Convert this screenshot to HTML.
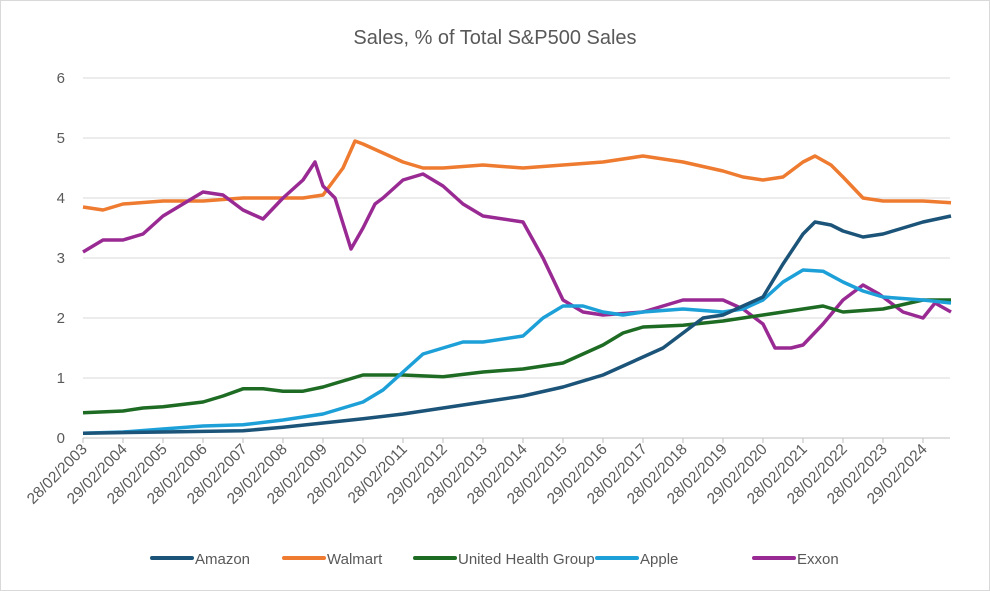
<!DOCTYPE html>
<html><head><meta charset="utf-8"><style>
body{margin:0;background:#fff;font-family:"Liberation Sans",sans-serif}
svg{display:block}
</style></head><body>
<svg id="chart" width="990" height="591" xmlns="http://www.w3.org/2000/svg">
<rect x="0.5" y="0.5" width="989" height="590" fill="#fff" stroke="#d9d9d9"/>
<text x="495" y="44" text-anchor="middle" font-size="20" fill="#595959">Sales, % of Total S&amp;P500 Sales</text>
<g id="grid"></g><g id="series"></g><g id="xlabels"></g><g id="legend"></g>
</svg>
<script>
const yTicks=[0,1,2,3,4,5,6];
const xLabels=["28/02/2003","29/02/2004","28/02/2005","28/02/2006","28/02/2007","29/02/2008","28/02/2009","28/02/2010","28/02/2011","29/02/2012","28/02/2013","28/02/2014","28/02/2015","29/02/2016","28/02/2017","28/02/2018","28/02/2019","29/02/2020","28/02/2021","28/02/2022","28/02/2023","29/02/2024"];
const seriesNames=["Amazon","Walmart","United Health Group","Apple","Exxon"];
const amazonT=[0,2,4,5,6,7,8,9,10,11,12,13,14,14.5,15,15.5,16,16.5,17,17.5,18,18.3,18.7,19,19.5,20,20.5,21,21.7];
const amazonV=[0.08,0.1,0.12,0.18,0.25,0.32,0.4,0.5,0.6,0.7,0.85,1.05,1.35,1.5,1.75,2.0,2.05,2.2,2.35,2.9,3.4,3.6,3.55,3.45,3.35,3.4,3.5,3.6,3.7];
const walmartT=[0,0.5,1,2,3,4,5,5.5,6,6.5,6.8,7,7.5,8,8.5,9,10,11,12,13,14,15,16,16.5,17,17.5,18,18.3,18.7,19,19.5,20,21,21.7];
const walmartV=[3.85,3.8,3.9,3.95,3.95,4.0,4.0,4.0,4.05,4.5,4.95,4.9,4.75,4.6,4.5,4.5,4.55,4.5,4.55,4.6,4.7,4.6,4.45,4.35,4.3,4.35,4.6,4.7,4.55,4.35,4.0,3.95,3.95,3.92];
const uhgT=[0,1,1.5,2,3,3.5,4,4.5,5,5.5,6,6.5,7,8,9,10,11,12,12.5,13,13.5,14,15,16,17,18,18.5,19,20,21,21.7];
const uhgV=[0.42,0.45,0.5,0.52,0.6,0.7,0.82,0.82,0.78,0.78,0.85,0.95,1.05,1.05,1.02,1.1,1.15,1.25,1.4,1.55,1.75,1.85,1.88,1.95,2.05,2.15,2.2,2.1,2.15,2.3,2.3];
const appleT=[0,1,2,3,4,5,6,7,7.5,8,8.5,9,9.5,10,11,11.5,12,12.5,13,13.5,14,15,16,16.5,17,17.5,18,18.5,19,19.5,20,21,21.7];
const appleV=[0.08,0.1,0.15,0.2,0.22,0.3,0.4,0.6,0.8,1.1,1.4,1.5,1.6,1.6,1.7,2.0,2.2,2.2,2.1,2.05,2.1,2.15,2.1,2.15,2.3,2.6,2.8,2.78,2.6,2.45,2.35,2.3,2.25];
const exxonT=[0,0.5,1,1.5,2,2.5,3,3.5,4,4.5,5,5.5,5.8,6,6.3,6.7,7,7.3,7.5,8,8.5,9,9.5,10,11,11.5,12,12.5,13,14,15,16,16.5,17,17.3,17.7,18,18.5,19,19.5,19.9,20.5,21,21.3,21.7];
const exxonV=[3.1,3.3,3.3,3.4,3.7,3.9,4.1,4.05,3.8,3.65,4.0,4.3,4.6,4.2,4.0,3.15,3.5,3.9,4.0,4.3,4.4,4.2,3.9,3.7,3.6,3.0,2.3,2.1,2.05,2.1,2.3,2.3,2.15,1.9,1.5,1.5,1.55,1.9,2.3,2.55,2.4,2.1,2.0,2.25,2.1];
const colors=["#1b5478","#ee7b30","#1e6b24","#1da0d8","#9a2a93"];
const NS="http://www.w3.org/2000/svg";
const X0=83,X1=950,PX=40,Y0=438,PY=60;
const xs=t=>X0+t*PX, ys=v=>Y0-v*PY;
function mk(tag,attrs,parent){const e=document.createElementNS(NS,tag);for(const k in attrs)e.setAttribute(k,attrs[k]);parent.appendChild(e);return e;}
const grid=document.getElementById('grid');
yTicks.forEach(v=>{
  const l=mk('line',{x1:X0,x2:X1,y1:ys(v),y2:ys(v),stroke:v===0?'#bfbfbf':'#d9d9d9','stroke-width':1},grid);
  
  
  const t=mk('text',{x:X0-18,y:ys(v)+5,'text-anchor':'end','font-size':15,fill:'#595959'},grid);
  t.textContent=v;
  
  
});
const xl=document.getElementById('xlabels');
xLabels.forEach((s,i)=>{
  const x=xs(i);
  const tk=mk('line',{x1:x,x2:x,y1:Y0,y2:Y0+5,stroke:'#bfbfbf'},xl);
  
  
  const t=mk('text',{x:x+5,y:Y0+12,'text-anchor':'end','font-size':15.5,fill:'#595959',transform:`rotate(-45 ${x+5} ${Y0+12})`},xl);
  t.textContent=s;
  
  
});
const sg=document.getElementById('series');
const allT=[amazonT,walmartT,uhgT,appleT,exxonT], allV=[amazonV,walmartV,uhgV,appleV,exxonV];
[1,4,2,3,0].forEach(i=>{
  const d=allT[i].map((t,j)=>(j?'L':'M')+xs(t).toFixed(1)+','+ys(allV[i][j]).toFixed(1)).join('');
  const p=mk('path',{d,fill:'none',stroke:colors[i],'stroke-width':3.5,'stroke-linejoin':'round'},sg);
  
  
});
const lg=document.getElementById('legend');
const lx=[152,284,415,597,754];
seriesNames.forEach((n,i)=>{
  const g=mk('g',{},lg);
  
  
  mk('line',{x1:lx[i],x2:lx[i]+40,y1:558,y2:558,stroke:colors[i],'stroke-width':4,'stroke-linecap':'round'},g);
  const t=mk('text',{x:lx[i]+43,y:564,'font-size':15,fill:'#595959'},g);
  t.textContent=n;
});
</script>
</body></html>
